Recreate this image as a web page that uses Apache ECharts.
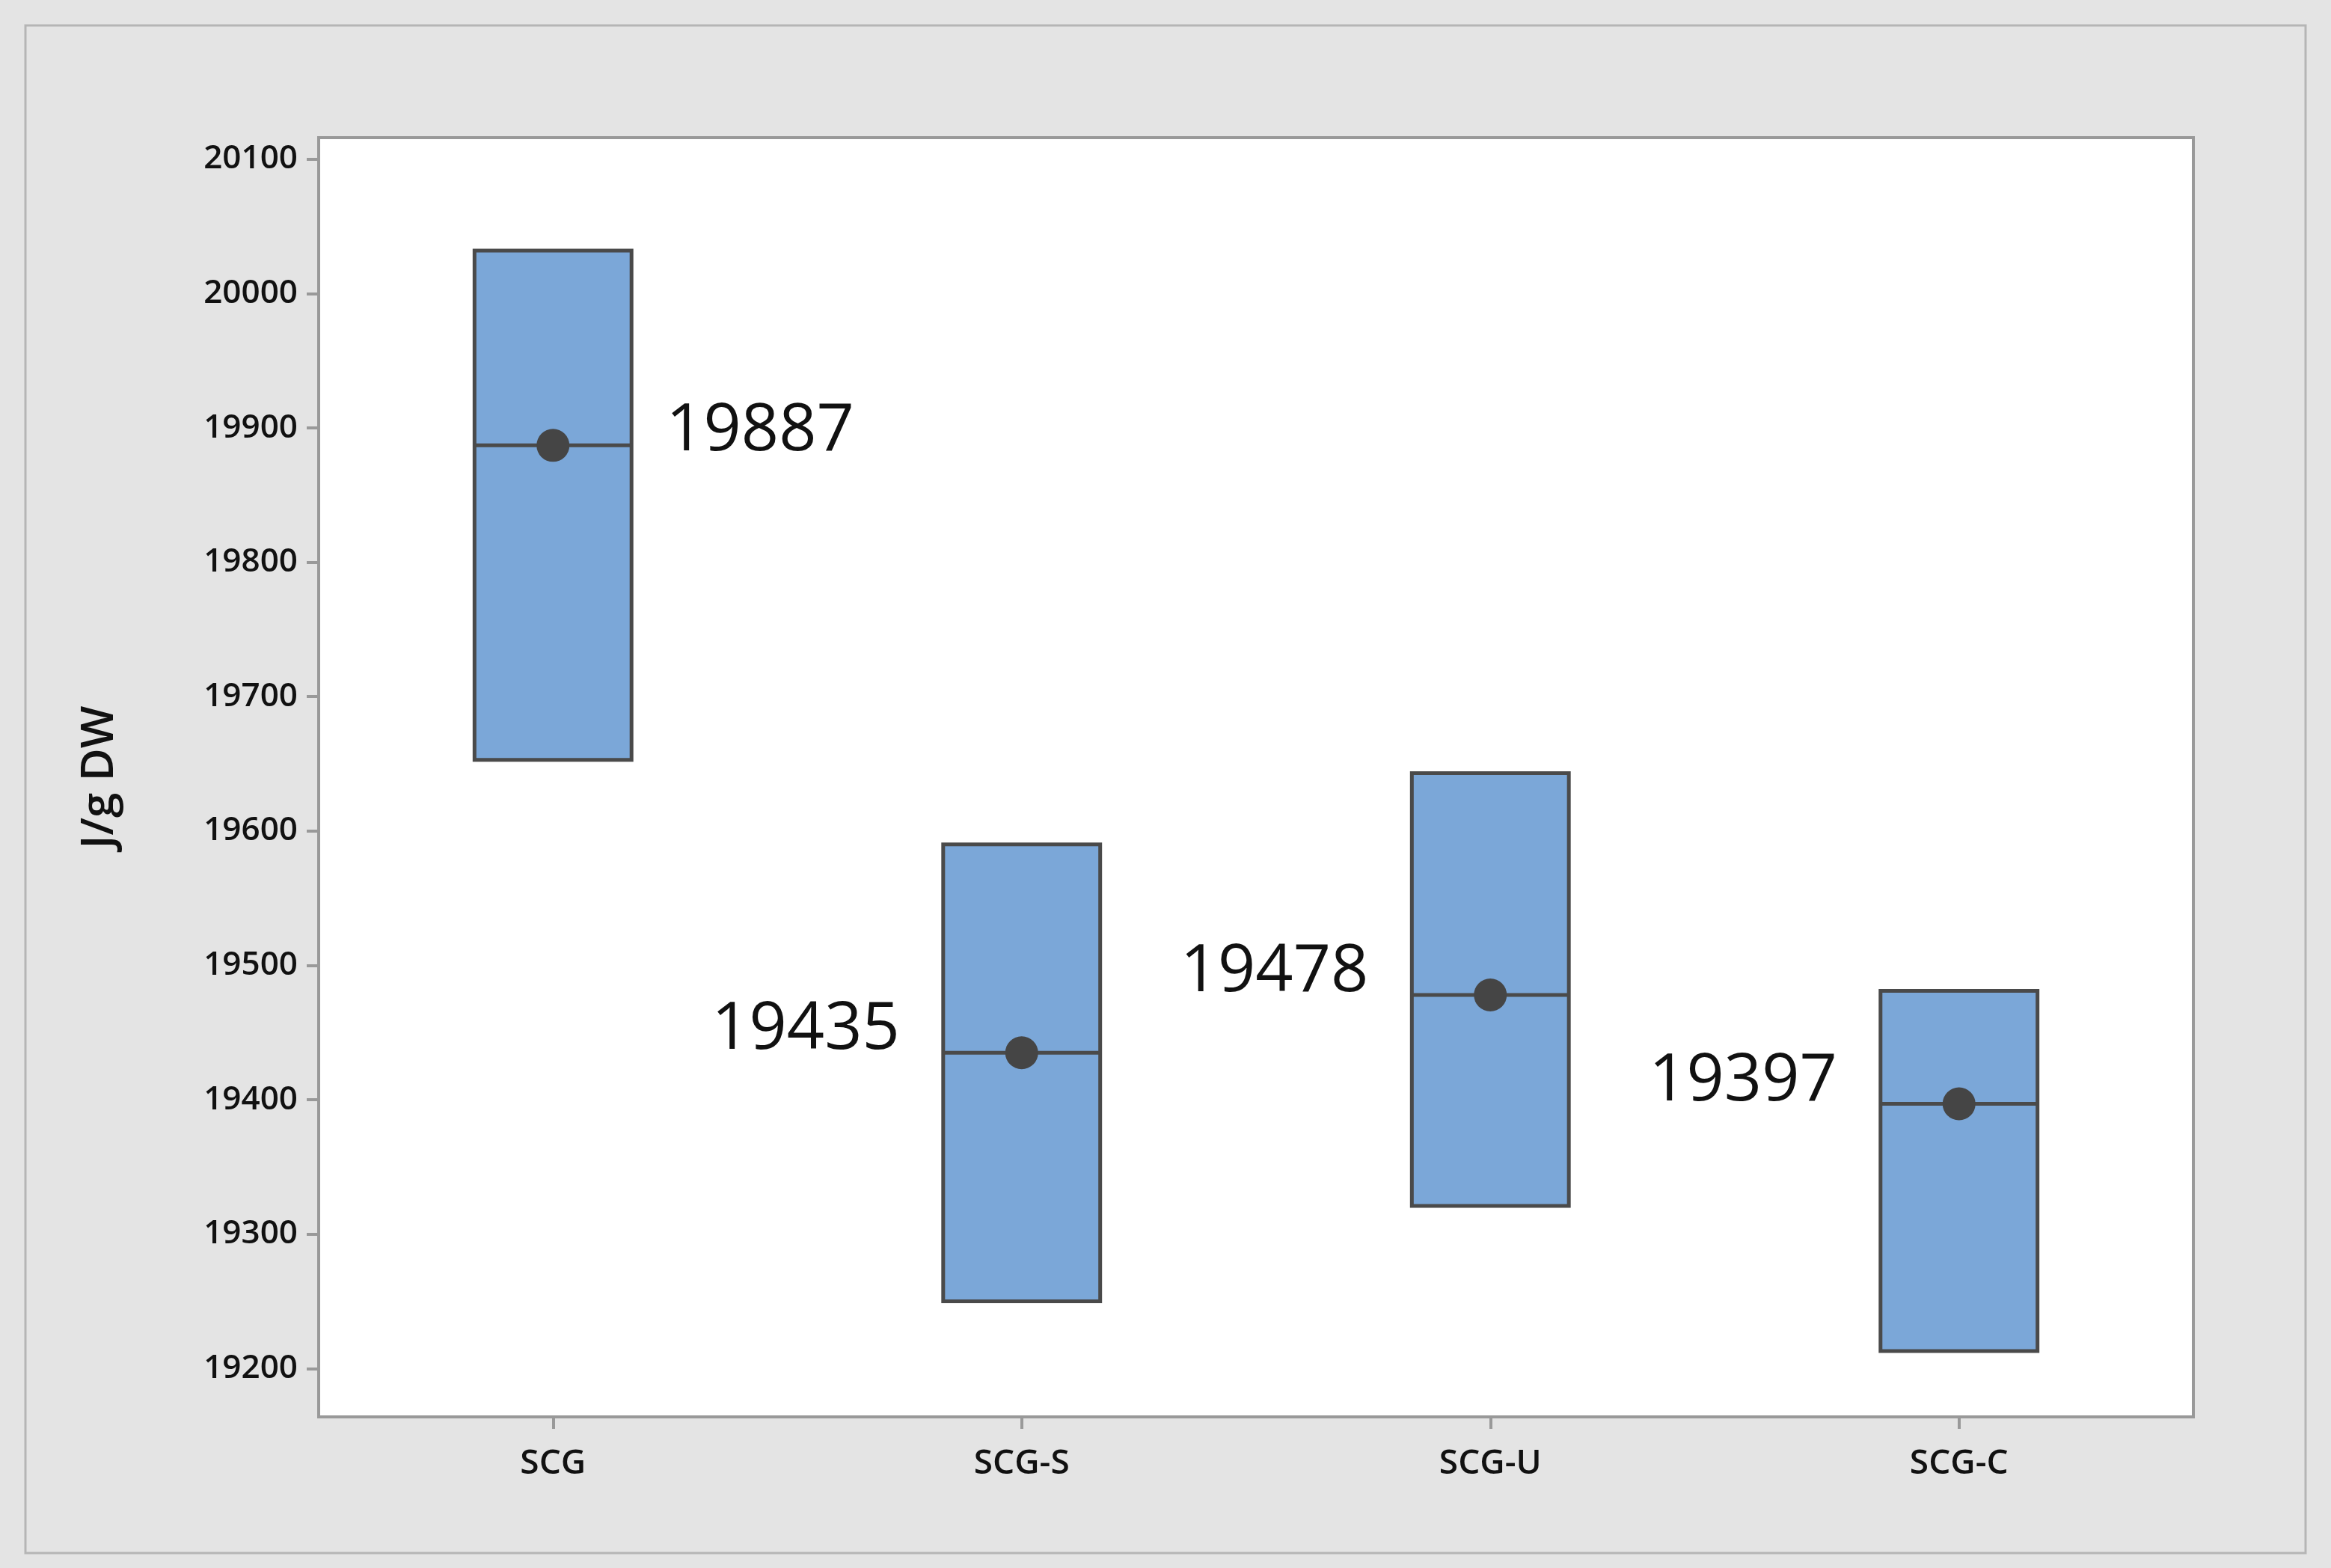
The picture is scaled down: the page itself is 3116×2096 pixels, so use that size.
<!DOCTYPE html>
<html><head><meta charset="utf-8">
<script src="https://cdn.jsdelivr.net/npm/echarts@6/dist/echarts.min.js"></script>
<style>html,body{margin:0;padding:0;background:#e4e4e4}#c{width:3116px;height:2096px}</style>
</head><body><div id="c"></div>
<script>
var categories = ['SCG', 'SCG-S', 'SCG-U', 'SCG-C'];
var lows = [19653, 19250, 19321, 19213];
var highs = [20032, 19590, 19643, 19481];
var means = [19887, 19435, 19478, 19397];
var labelSide = ['right', 'left', 'left', 'left'];
var yTicks = [19200, 19300, 19400, 19500, 19600, 19700, 19800, 19900, 20000, 20100];

var chart = echarts.init(document.getElementById('c'));
var font = '"Open Sans", "Noto Sans", sans-serif';

var data = categories.map(function (c, i) { return [i, lows[i], highs[i], means[i]]; });

function renderItem(params, api) {
  var i = api.value(0);
  var lo = api.coord([i, api.value(1)]);
  var hi = api.coord([i, api.value(2)]);
  var mn = api.coord([i, api.value(3)]);
  var w = api.size([1, 0])[0] * 0.335;
  var x0 = lo[0] - w / 2;
  var side = labelSide[i];
  return {
    type: 'group',
    children: [
      { type: 'rect', shape: { x: x0, y: hi[1], width: w, height: lo[1] - hi[1] },
        style: { fill: '#7ba7d8', stroke: '#4a4a4a', lineWidth: 5 } },
      { type: 'line', shape: { x1: x0, y1: mn[1], x2: x0 + w, y2: mn[1] },
        style: { stroke: '#4a4a4a', lineWidth: 5 } },
      { type: 'circle', shape: { cx: mn[0], cy: mn[1], r: 22 },
        style: { fill: '#454545' } },
      { type: 'text', style: {
          text: String(means[i]),
          x: side === 'right' ? x0 + w + 46 : x0 - 58,
          y: mn[1] - (side === 'right' ? 18 : 30),
          align: side === 'right' ? 'left' : 'right', verticalAlign: 'middle',
          font: '88px ' + font, fill: '#111' } }
    ]
  };
}

chart.setOption({
  backgroundColor: '#e4e4e4',
  animation: false,
  graphic: [{ type: 'rect', shape: { x: 34, y: 34, width: 3048, height: 2042 },
    style: { fill: '#e4e4e4', stroke: '#b5b5b5', lineWidth: 3 }, z: -10 }],
  grid: { left: 426, right: 184, top: 184, bottom: 202, show: true,
    backgroundColor: '#fff', borderColor: '#999', borderWidth: 4 },
  xAxis: {
    type: 'category', data: categories, boundaryGap: true,
    axisLine: { show: false },
    axisTick: { show: true, alignWithLabel: true, length: 16, lineStyle: { color: '#999', width: 4 } },
    axisLabel: { fontSize: 46, fontWeight: 600, color: '#111', fontFamily: font, margin: 40 }
  },
  yAxis: {
    type: 'value', min: 19164, max: 20116,
    name: 'J/g DW', nameLocation: 'middle', nameGap: 262,
    nameTextStyle: { fontSize: 60, color: '#111', fontFamily: font, fontWeight: 600 },
    splitLine: { show: false },
    axisLine: { show: false },
    axisTick: { show: true, customValues: yTicks, length: 16, lineStyle: { color: '#999', width: 4 } },
    axisLabel: { customValues: yTicks, fontSize: 44, fontWeight: 600, color: '#111', fontFamily: font, margin: 28,
      formatter: function (v) { return String(v); } }
  },
  series: [{ type: 'custom', renderItem: renderItem, data: data,
    encode: { x: 0, y: [1, 2, 3] } }]
});
</script></body></html>
